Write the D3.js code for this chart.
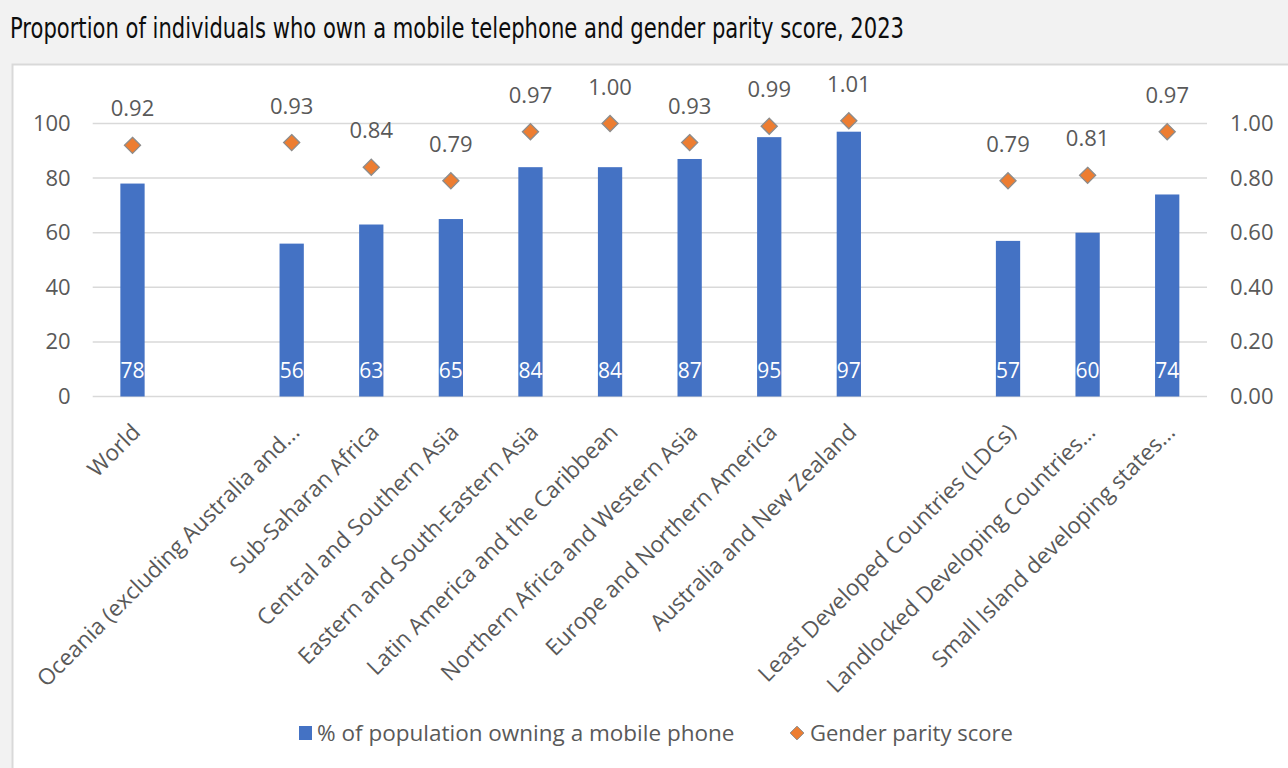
<!DOCTYPE html>
<html>
<head>
<meta charset="utf-8">
<script src="https://cdn.jsdelivr.net/npm/d3@7"></script>
<style>
  html, body { margin: 0; padding: 0; background: #f2f2f2; }
  svg { display: block; }
</style>
</head>
<body>
<svg id="chart" width="1288" height="768"></svg>
<script>
// Regions and groups; empty strings are spacer slots between groups
const categories = [
  "World", "",
  "Oceania (excluding Australia and...", "Sub-Saharan Africa", "Central and Southern Asia",
  "Eastern and South-Eastern Asia", "Latin America and the Caribbean",
  "Northern Africa and Western Asia", "Europe and Northern America", "Australia and New Zealand", "",
  "Least Developed Countries (LDCs)", "Landlocked Developing Countries...", "Small Island developing states..."
];
// % of population owning a mobile phone
const ownership = [78, null, 56, 63, 65, 84, 84, 87, 95, 97, null, 57, 60, 74];
// Gender parity score
const parity = [0.92, null, 0.93, 0.84, 0.79, 0.97, 1.00, 0.93, 0.99, 1.01, null, 0.79, 0.81, 0.97];

const leftTicks = [0, 20, 40, 60, 80, 100];
const rightTicks = [0, 0.2, 0.4, 0.6, 0.8, 1.0];

const BLUE = "#4472C4", ORANGE = "#ED7D31", TEXT = "#595959", GRID = "#d9d9d9";
const FONT = "'Open Sans', 'Noto Sans', sans-serif";

const svg = d3.select("#chart");

// Title
svg.append("text")
  .attr("x", 10).attr("y", 38)
  .attr("font-family", "'Liberation Sans Narrow', 'DejaVu Sans Condensed', 'Liberation Sans', sans-serif")
  .attr("font-stretch", "condensed")
  .attr("font-size", 29)
  .attr("fill", "#0d0d0d")
  .attr("textLength", 894)
  .attr("lengthAdjust", "spacingAndGlyphs")
  .text("Proportion of individuals who own a mobile telephone and gender parity score, 2023");

// Chart panel
svg.append("rect")
  .attr("x", 12.5).attr("y", 64.5)
  .attr("width", 1290).attr("height", 720)
  .attr("fill", "#fff").attr("stroke", GRID).attr("stroke-width", 2);

const x0 = 92.7, x1 = 1207, yTop = 123.5, yBot = 396.5;

const x = d3.scaleBand()
  .domain(d3.range(categories.length))
  .range([x0, x1])
  .paddingInner(0.695)
  .paddingOuter(0.3475);

const yL = d3.scaleLinear().domain([0, 100]).range([yBot, yTop]);
const yR = d3.scaleLinear().domain([0, 1]).range([yBot, yTop]);

// Gridlines
svg.append("g")
  .selectAll("line")
  .data(leftTicks)
  .join("line")
  .attr("x1", x0).attr("x2", x1)
  .attr("y1", d => yL(d)).attr("y2", d => yL(d))
  .attr("stroke", GRID).attr("stroke-width", 1.5);

// Left axis
const axL = svg.append("g")
  .attr("transform", `translate(${x0},0)`)
  .call(d3.axisLeft(yL).tickValues(leftTicks).tickSize(0).tickPadding(22).tickFormat(d3.format("d")));
axL.select(".domain").remove();
axL.selectAll("text").attr("font-family", FONT).attr("font-size", 22).attr("fill", TEXT);

// Right axis
const axR = svg.append("g")
  .attr("transform", `translate(${x1},0)`)
  .call(d3.axisRight(yR).tickValues(rightTicks).tickSize(0).tickPadding(23).tickFormat(d3.format(".2f")));
axR.select(".domain").remove();
axR.selectAll("text").attr("font-family", FONT).attr("font-size", 22).attr("fill", TEXT);

const idx = d3.range(categories.length);
const barIdx = idx.filter(i => ownership[i] != null);
const dotIdx = idx.filter(i => parity[i] != null);

// Bars
svg.append("g")
  .selectAll("rect")
  .data(barIdx)
  .join("rect")
  .attr("x", i => x(i))
  .attr("width", x.bandwidth())
  .attr("y", i => yL(ownership[i]))
  .attr("height", i => yL(0) - yL(ownership[i]))
  .attr("fill", BLUE);

// Bar value labels (inside base)
svg.append("g")
  .selectAll("text")
  .data(barIdx)
  .join("text")
  .attr("x", i => x(i) + x.bandwidth() / 2)
  .attr("y", yBot - 19)
  .attr("text-anchor", "middle")
  .attr("font-family", FONT).attr("font-size", 21)
  .attr("fill", "#fff")
  .text(i => d3.format("d")(ownership[i]));

// Parity markers
const diamond = d3.symbol().type(d3.symbolDiamond2).size(165);
svg.append("g")
  .selectAll("path")
  .data(dotIdx)
  .join("path")
  .attr("transform", i => `translate(${x(i) + x.bandwidth() / 2},${yR(parity[i])})`)
  .attr("d", diamond)
  .attr("fill", ORANGE)
  .attr("stroke", "#8c8c8c").attr("stroke-width", 1.3);

// Parity labels
svg.append("g")
  .selectAll("text")
  .data(dotIdx)
  .join("text")
  .attr("x", i => x(i) + x.bandwidth() / 2)
  .attr("y", i => yR(parity[i]) - 29)
  .attr("text-anchor", "middle")
  .attr("font-family", FONT).attr("font-size", 22)
  .attr("fill", TEXT)
  .text(i => d3.format(".2f")(parity[i]));

// Category labels
svg.append("g")
  .selectAll("text")
  .data(idx.filter(i => categories[i] !== ""))
  .join("text")
  .attr("transform", i => `translate(${x(i) + x.bandwidth() / 2 - 2},${yBot + 26}) rotate(-45)`)
  .attr("text-anchor", "end")
  .attr("dy", "0.7em")
  .attr("font-family", FONT).attr("font-size", 22.5)
  .attr("fill", TEXT)
  .text(i => categories[i]);

// Legend
const lg = svg.append("g").attr("transform", "translate(299,733)");
lg.append("rect").attr("x", 0).attr("y", -7).attr("width", 13).attr("height", 14).attr("fill", BLUE);
lg.append("text").attr("x", 18).attr("y", 0).attr("dy", "0.35em")
  .attr("font-family", FONT).attr("font-size", 22.5).attr("fill", TEXT)
  .text("% of population owning a mobile phone");
lg.append("path")
  .attr("transform", "translate(498,0)")
  .attr("d", d3.symbol().type(d3.symbolDiamond2).size(120))
  .attr("fill", ORANGE).attr("stroke", "#8c8c8c").attr("stroke-width", 1);
lg.append("text").attr("x", 511).attr("y", 0).attr("dy", "0.35em")
  .attr("font-family", FONT).attr("font-size", 22).attr("fill", TEXT)
  .text("Gender parity score");
</script>
</body>
</html>
